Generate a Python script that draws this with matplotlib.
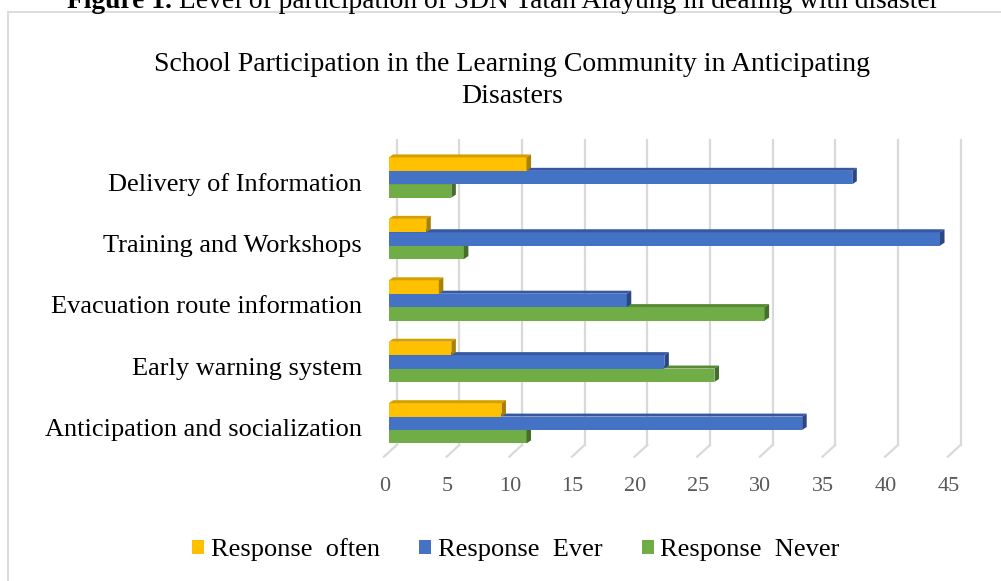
import matplotlib
matplotlib.use("Agg")
import matplotlib.pyplot as plt
import matplotlib.transforms as mtransforms
from matplotlib.patches import Polygon, Rectangle, Patch
from matplotlib.lines import Line2D

plt.rcParams['font.family'] = ['Liberation Serif', 'DejaVu Serif']

# ---- data (bottom to top, as drawn) ----
categories = ['Anticipation and socialization', 'Early warning system',
              'Evacuation route information', 'Training and Workshops',
              'Delivery of Information']
response_often = [9, 5, 4, 3, 11]
response_ever = [33, 22, 19, 44, 37]
response_never = [11, 26, 30, 6, 5]
x_ticks = [0, 5, 10, 15, 20, 25, 30, 35, 40, 45]
series_names = ['Response  often', 'Response  Ever', 'Response  Never']

title = 'School Participation in the Learning Community in Anticipating\nDisasters'
caption_bold = 'Figure 1.'
caption_rest = ' Level of participation of SDN Tatah Alayung in dealing with disaster'

# front, top face, side face
colors = {
    'Response  often': ('#FFC000', '#D4A000', '#A98000'),
    'Response  Ever': ('#4472C4', '#3558A0', '#2A4784'),
    'Response  Never': ('#70AD47', '#568A36', '#446E2A'),
}

W, H = 1001, 581
fig = plt.figure(figsize=(W / 100, H / 100), dpi=100)

# outer chart frame
fig.add_artist(Rectangle((8 / W, -0.02), 1.0, 1 - 12 / H + 0.02, transform=fig.transFigure,
                         fill=False, ec='#D9D9D9', lw=1.3))

# caption, cut off at the top of the page as in the source
cap = fig.text(67 / W, 1 - 8 / H, caption_bold, fontsize=19.8, fontweight='bold',
               ha='left', va='baseline')
fig.canvas.draw()
bb = cap.get_window_extent()
fig.text(bb.x1 / W, 1 - 8 / H, caption_rest, fontsize=19.8, ha='left', va='baseline')

fig.text(512 / W, 1 - 80.5 / H, title, fontsize=20, ha='center', va='center',
         linespacing=1.38)

# plot area
x0, x1 = 388.7, 388.7 + 45 * 12.53
y_top, y_bot = 146.8, 454.0
ax = fig.add_axes([x0 / W, 1 - y_bot / H, (x1 - x0) / W, (y_bot - y_top) / H])
ax.set_xlim(0, 45)
ax.set_ylim(-0.5, 4.5)
ax.patch.set_alpha(0)
for s in ax.spines.values():
    s.set_visible(False)

ux = (x1 - x0) / 45.0        # px per x unit
uy = (y_bot - y_top) / 5.0   # px per y unit

# gridlines: back wall + floor diagonals
g_bot = -0.5 + 9 / uy
g_top = 4.5 + 6.8 / uy
for v in x_ticks:
    xb = v + 8 / ux
    ax.add_line(Line2D([xb, xb], [g_bot, g_top], color='#D9D9D9', lw=1.6,
                       clip_on=False, zorder=1))
    ax.add_line(Line2D([xb, v - 4.7 / ux], [g_bot, g_bot - 11.7 / uy], color='#D9D9D9',
                       lw=1.6, clip_on=False, zorder=1))

h = 13.4 / uy
dx, dy = 4.5 / ux, 3.0 / uy


def bar3d(y, v, front, top, side, z):
    ax.barh(y, v, height=h, color=front, zorder=z, lw=0)
    ya, yb = y - h / 2, y + h / 2
    ax.add_patch(Polygon([(0, yb), (v, yb), (v + dx, yb + dy), (dx, yb + dy)],
                         closed=True, fc=top, ec='none', zorder=z, clip_on=False))
    ax.add_patch(Polygon([(v, ya), (v, yb), (v + dx, yb + dy), (v + dx, ya + dy)],
                         closed=True, fc=side, ec='none', zorder=z, clip_on=False))


series_vals = [response_often, response_ever, response_never]
offsets = [h, 0, -h]
zorders = [4, 3, 2]
for i in range(len(categories)):
    for name, vals, off, z in reversed(list(zip(series_names, series_vals, offsets, zorders))):
        f, t, s = colors[name]
        bar3d(i + off, vals[i], f, t, s, z)

ax.set_yticks(range(len(categories)))
ax.set_yticklabels(categories, fontsize=19, color='black')
ax.set_xticks(x_ticks)
ax.set_xticklabels([str(t) for t in x_ticks], fontsize=16, color='#595959')
ax.tick_params(axis='y', length=0, pad=19.2)
ax.tick_params(axis='x', length=0, pad=16.5)

# nudge labels to sit like the 3-D floor labels of the source
shift_y = mtransforms.ScaledTranslation(0, -3 / 72, fig.dpi_scale_trans)
for lbl in ax.get_yticklabels():
    lbl.set_transform(lbl.get_transform() + shift_y)
shift_x = mtransforms.ScaledTranslation(-3 / 72, 0, fig.dpi_scale_trans)
for lbl in ax.get_xticklabels():
    lbl.set_transform(lbl.get_transform() + shift_x)

handles = [Patch(facecolor=colors[n][0], edgecolor='none') for n in series_names]
fig.legend(handles, series_names, loc='center', bbox_to_anchor=(516 / W, 1 - 550 / H),
           ncol=3, frameon=False, fontsize=19, handlelength=0.45, handleheight=0.45,
           handletextpad=0.25, columnspacing=1.5)

fig.savefig('out.png', dpi=100)
